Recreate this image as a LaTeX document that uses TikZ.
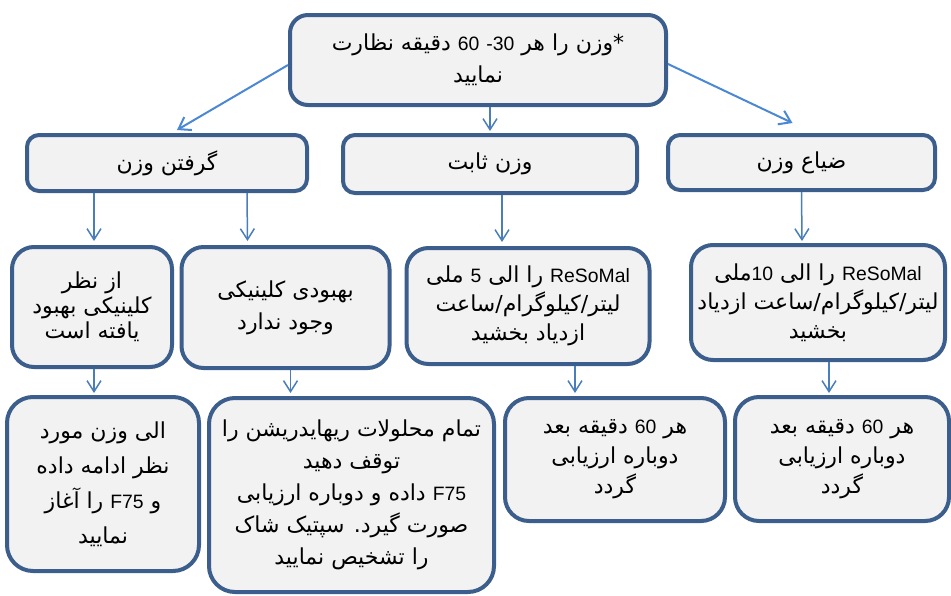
\documentclass[tikz,border=0pt]{standalone}
\usepackage{fontspec}
\newfontfamily\pfont[Script=Arabic]{DejaVu Sans}
\newfontfamily\latfont[Scale=0.88]{Liberation Sans}
\TeXXeTstate=1
\usetikzlibrary{arrows.meta}
\definecolor{bord}{HTML}{3B5E8C}
\definecolor{boxfill}{HTML}{F2F2F2}
\definecolor{arrc}{HTML}{4A7EBB}
\definecolor{arrd}{HTML}{4A88D4}
\newcommand{\Rtxt}[1]{\beginR #1\endR}
\newcommand{\Ltxt}[1]{\beginL{\latfont #1}\endL{}}
\begin{document}
\begin{tikzpicture}[x=1pt,y=-1pt,
  box/.style={draw=bord, line width=4pt, fill=boxfill, align=center,
    inner sep=0pt, font=\pfont\fontsize{22}{30}\selectfont},
  arr/.style={draw=arrc, line width=1.5pt,
    -{Straight Barb[length=11pt,width=14pt,line width=1.5pt]}},
  arrdiag/.style={draw=arrd, line width=2pt,
    -{Straight Barb[length=11pt,width=15pt,line width=2pt]}}]
\useasboundingbox (0,0) rectangle (951,595);
% row 1
\node[box, rounded corners=18pt, minimum width=376pt, minimum height=90pt,
  font=\pfont\fontsize{22}{32}\selectfont] (top) at (478,60)
  {\Rtxt{*وزن را هر \Ltxt{-30} \Ltxt{60} دقیقه نظارت}\\\Rtxt{نمایید}};
% row 2
\node[box, rounded corners=12pt, minimum width=280pt, minimum height=56pt] (gain) at (167,163)
  {\Rtxt{گرفتن وزن}};
\node[box, rounded corners=12pt, minimum width=294pt, minimum height=58pt] (stable) at (490,164)
  {\Rtxt{وزن ثابت}};
\node[box, rounded corners=12pt, minimum width=267pt, minimum height=55pt] (loss) at (801.5,162.5)
  {\Rtxt{ضیاع وزن}};
% row 3
\node[box, rounded corners=22pt, minimum width=160pt, minimum height=120pt,
  font=\pfont\fontsize{22}{25}\selectfont] (improved) at (92,307)
  {\Rtxt{از نظر}\\\Rtxt{کلینیکی بهبود}\\\Rtxt{یافته است}};
\node[box, rounded corners=22pt, minimum width=208pt, minimum height=121pt,
  font=\pfont\fontsize{22}{32}\selectfont] (noimp) at (285.5,307.5)
  {\Rtxt{بهبودی کلینیکی}\\\Rtxt{وجود ندارد}};
\node[box, rounded corners=22pt, minimum width=243pt, minimum height=116pt,
  font=\pfont\fontsize{22}{29}\selectfont] (reso5) at (528,306)
  {\Rtxt{\Ltxt{ReSoMal} را الی \Ltxt{5} ملی}\\\Rtxt{لیتر/کیلوگرام/ساعت}\\\Rtxt{ازدیاد بخشید}};
\node[box, rounded corners=22pt, minimum width=254pt, minimum height=115pt,
  font=\pfont\fontsize{22}{29}\selectfont] (reso10) at (818,302.5)
  {\Rtxt{\Ltxt{ReSoMal} را الی \Ltxt{10}ملی}\\\Rtxt{لیتر/کیلوگرام/ساعت ازدیاد}\\\Rtxt{بخشید}};
% row 4
\node[box, rounded corners=26pt, minimum width=192pt, minimum height=174pt,
  font=\pfont\fontsize{22}{35}\selectfont] (cont) at (103,484)
  {\Rtxt{الی وزن مورد}\\\Rtxt{نظر ادامه داده}\\\Rtxt{و \Ltxt{F75} را آغاز}\\\Rtxt{نمایید}};
\node[box, rounded corners=26pt, minimum width=285pt, minimum height=194pt,
  font=\pfont\fontsize{22}{32}\selectfont] (stop) at (351.5,495)
  {\Rtxt{تمام محلولات ریهایدریشن را}\\\Rtxt{توقف دهید}\\\Rtxt{\Ltxt{F75} داده و دوباره ارزیابی}\\\Rtxt{صورت گیرد. سپتیک شاک}\\\Rtxt{را تشخیص نمایید}};
\node[box, rounded corners=24pt, minimum width=220pt, minimum height=123pt,
  font=\pfont\fontsize{22}{30}\selectfont] (eval1) at (615,459.5)
  {\Rtxt{هر \Ltxt{60} دقیقه بعد}\\\Rtxt{دوباره ارزیابی}\\\Rtxt{گردد}};
\node[box, rounded corners=24pt, minimum width=214pt, minimum height=124pt,
  font=\pfont\fontsize{22}{30}\selectfont] (eval2) at (842,459)
  {\Rtxt{هر \Ltxt{60} دقیقه بعد}\\\Rtxt{دوباره ارزیابی}\\\Rtxt{گردد}};
% connectors row 1 -> row 2
\draw[arrdiag] ([yshift=-5pt]top.west) -- ([xshift=10pt,yshift=3pt]gain.north);
\draw[arr] (top.south -| stable.north) -- ([yshift=2pt]stable.north);
\draw[arrdiag] ([yshift=-4pt]top.east) -- ([xshift=-9pt,yshift=10pt]loss.north);
% row 2 -> row 3
\draw[arr] ([xshift=-73pt]gain.south) -- ([xshift=2pt,yshift=4pt]improved.north);
\draw[arr] ([xshift=80pt]gain.south) -- ([xshift=-38pt,yshift=4pt]noimp.north);
\draw[arr] ([xshift=12pt]stable.south) -- ([xshift=-26pt,yshift=4pt]reso5.north);
\draw[arr] ([xshift=0pt]loss.south) -- ([xshift=-16pt,yshift=2pt]reso10.north);
% row 3 -> row 4
\draw[arr] ([xshift=2pt]improved.south) -- ([xshift=-9pt,yshift=2pt]cont.north);
\draw[arr] ([xshift=5pt]noimp.south) -- ([xshift=-61pt,yshift=3pt]stop.north);
\draw[arr] ([xshift=47pt]reso5.south) -- ([xshift=-40pt,yshift=3pt]eval1.north);
\draw[arr] ([xshift=11pt]reso10.south) -- ([xshift=-13pt,yshift=2pt]eval2.north);
\end{tikzpicture}
\end{document}
